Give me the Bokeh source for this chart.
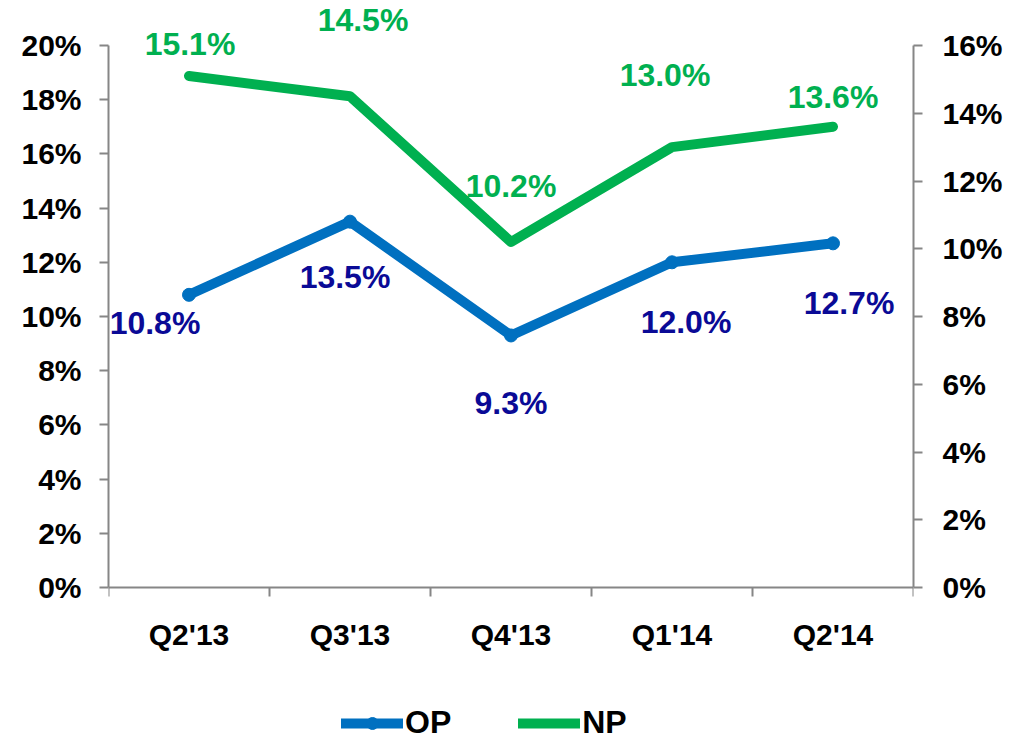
from bokeh.plotting import figure
from bokeh.models import (ColumnDataSource, Range1d, LinearAxis, FixedTicker,
                          PrintfTickFormatter, LabelSet, Legend, LegendItem)
from bokeh.core.properties import value
from bokeh.embed import file_html
from bokeh.resources import INLINE

categories = ["Q2'13", "Q3'13", "Q4'13", "Q1'14", "Q2'14"]
op_values = [10.8, 13.5, 9.3, 12.0, 12.7]
np_values = [15.1, 14.5, 10.2, 13.0, 13.6]
op_labels = ["10.8%", "13.5%", "9.3%", "12.0%", "12.7%"]
np_labels = ["15.1%", "14.5%", "10.2%", "13.0%", "13.6%"]
left_ticks = list(range(0, 21, 2))
right_ticks = list(range(0, 17, 2))

# label offsets (screen px, y up) - styling only
op_dx = [-34, -5, 0, 14, 16]
op_dy = [-28, -55, -68, -60, -60]
np_dx = [1, 13, 0, -7, 0]
np_dy = [32, 76, 56, 72, 30]

BLUE = "#0070C0"
GREEN = "#00B050"
NAVY = "#0A0A96"
AXIS = "#868686"
FONT = "Liberation Sans"

# layout (pixels)
FIG_W, FIG_H = 1008, 740
AX_TOP, AX_BOTTOM = 45, 587          # y pixel of 20% and 0%
PX = (AX_BOTTOM - AX_TOP) / 20.0     # pixels per left unit
y_start = -(FIG_H - AX_BOTTOM) / PX
y_end = 20 + AX_TOP / PX
ratio = 16 / 20.0

xs = list(range(len(categories)))

p = figure(width=FIG_W, height=FIG_H, output_backend="svg", toolbar_location=None,
           x_range=Range1d(-0.5, len(categories) - 0.5),
           y_range=Range1d(y_start, y_end),
           min_border_left=108, min_border_right=95, min_border_top=0,
           min_border_bottom=0)
p.outline_line_color = None
p.grid.visible = False
p.background_fill_color = "white"
p.border_fill_color = "white"
p.extra_y_ranges = {"np": Range1d(y_start * ratio, y_end * ratio)}

# x axis
xa = p.xaxis[0]
xa.fixed_location = 0
xa.ticker = FixedTicker(ticks=xs, minor_ticks=[i - 0.5 for i in range(len(categories) + 1)])
xa.major_label_overrides = {i: c for i, c in enumerate(categories)}
xa.major_tick_line_color = None
xa.minor_tick_line_color = AXIS
xa.minor_tick_out = 9
xa.minor_tick_in = 0
xa.major_label_standoff = 21
xa.axis_line_color = AXIS
xa.axis_line_width = 2
xa.minor_tick_line_width = 2

def style_y(ax, bounds):
    ax.bounds = bounds
    ax.axis_line_color = AXIS
    ax.axis_line_width = 2
    ax.major_tick_line_color = AXIS
    ax.major_tick_line_width = 2
    ax.major_tick_out = 9
    ax.major_tick_in = 0
    ax.minor_tick_line_color = None
    ax.formatter = PrintfTickFormatter(format="%d%%")
    ax.major_label_standoff = 18

ya = p.yaxis[0]
ya.ticker = FixedTicker(ticks=left_ticks)
style_y(ya, (0, 20))

ra = LinearAxis(y_range_name="np", ticker=FixedTicker(ticks=right_ticks))
style_y(ra, (0, 16))
ra.major_label_standoff = 20
p.add_layout(ra, "right")

for ax in [xa, ya, ra]:
    ax.major_label_text_font = FONT
    ax.major_label_text_font_style = "bold"
    ax.major_label_text_font_size = "30px"
    ax.major_label_text_color = "black"

op_src = ColumnDataSource(dict(x=xs, y=op_values, t=op_labels, dx=op_dx, dy=op_dy))
np_src = ColumnDataSource(dict(x=xs, y=np_values, t=np_labels, dx=np_dx, dy=np_dy))

op_line = p.line("x", "y", source=op_src, line_color=BLUE, line_width=10,
                 line_cap="round", line_join="round")
op_pts = p.scatter("x", "y", source=op_src, size=13, color=BLUE)
np_line = p.line("x", "y", source=np_src, line_color=GREEN, line_width=10,
                 line_cap="round", line_join="round", y_range_name="np")

op_lab = LabelSet(x="x", y="y", text="t", source=op_src, x_offset="dx", y_offset="dy",
                  text_align="center", text_baseline="middle", text_color=NAVY,
                  text_font=value(FONT), text_font_style="bold", text_font_size="32px")
np_lab = LabelSet(x="x", y="y", text="t", source=np_src, x_offset="dx", y_offset="dy",
                  y_range_name="np",
                  text_align="center", text_baseline="middle", text_color=GREEN,
                  text_font=value(FONT), text_font_style="bold", text_font_size="32px")
p.add_layout(op_lab)
p.add_layout(np_lab)

legend = Legend(items=[LegendItem(label="OP", renderers=[op_line, op_pts]),
                       LegendItem(label="NP", renderers=[np_line])],
                orientation="horizontal", location=(233, -1),
                glyph_width=62, glyph_height=30, label_standoff=2, spacing=67,
                padding=0, margin=0, border_line_color=None,
                background_fill_alpha=0,
                label_text_font=FONT, label_text_font_style="bold",
                label_text_font_size="32px", label_text_color="black")
p.add_layout(legend, "center")

open("out.html", "w").write(file_html(p, INLINE))
